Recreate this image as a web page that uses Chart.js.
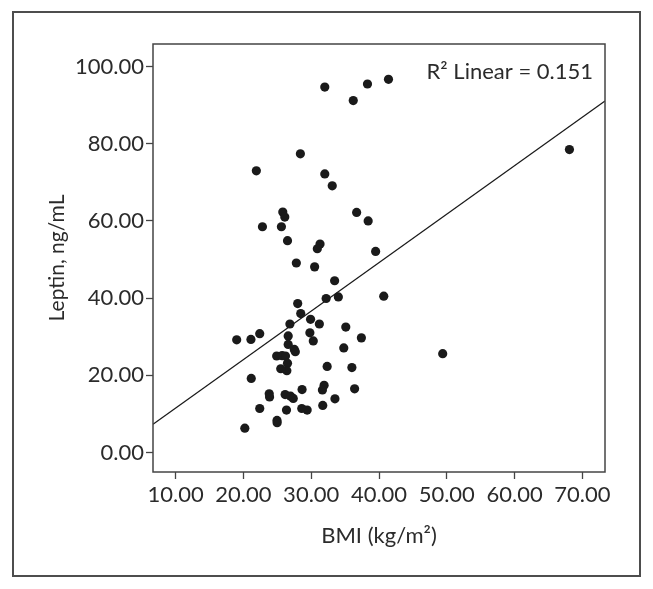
<!DOCTYPE html>
<html>
<head>
<meta charset="utf-8">
<script src="https://cdn.jsdelivr.net/npm/chart.js@4"></script>
<style>
  html, body { margin: 0; padding: 0; background: #fff; }
  #wrap { position: relative; width: 653px; height: 589px; }
  #frame {
    position: absolute; left: 12px; top: 11px; width: 629px; height: 566px;
    box-sizing: border-box; border: 2px solid #4d4d4d; pointer-events: none;
  }
</style>
</head>
<body>
<div id="wrap">
  <canvas id="chart" width="653" height="589"></canvas>
  <div id="frame"></div>
</div>
<script>
// BMI (x) and leptin (y)
const bmi = [32.0, 38.3, 41.4, 36.2, 28.4, 21.9, 68.1, 32.0, 33.1, 25.8,
  26.1, 36.7, 38.4, 22.8, 25.6, 26.5, 31.3, 30.9, 39.5, 27.8,
  30.5, 33.45, 28.0, 32.2, 34.0, 40.7, 28.45, 29.9, 26.85, 31.2,
  35.1, 26.6, 29.8, 30.3, 19.0, 21.1, 22.4, 37.4, 26.6, 27.5,
  27.65, 34.8, 24.9, 25.7, 26.2, 26.5, 26.4, 25.5, 32.35, 36.0,
  49.4, 21.15, 31.9, 31.65, 36.4, 28.65, 23.8, 23.85, 26.15, 26.95,
  27.35, 33.5, 31.7, 22.4, 26.35, 28.6, 29.4, 24.95, 24.97, 20.2];
const leptin = [94.7, 95.5, 96.7, 91.2, 77.4, 73.0, 78.5, 72.2, 69.1, 62.3,
  61.0, 62.2, 60.0, 58.5, 58.5, 54.9, 54.0, 52.8, 52.1, 49.1,
  48.1, 44.5, 38.6, 39.9, 40.3, 40.5, 36.0, 34.5, 33.3, 33.3,
  32.5, 30.2, 31.0, 28.9, 29.2, 29.3, 30.8, 29.7, 28.0, 26.7,
  26.1, 27.1, 25.0, 25.1, 25.0, 23.1, 21.2, 21.7, 22.3, 22.0,
  25.6, 19.2, 17.4, 16.2, 16.5, 16.3, 15.2, 14.4, 15.0, 14.6,
  14.0, 13.9, 12.2, 11.4, 11.0, 11.4, 11.0, 8.3, 7.7, 6.3];

// fit line end points (at the plot edges)
const fitX = [6.65, 73.35];
const fitY = [7.3, 91.1];

const xTicks = [10, 20, 30, 40, 50, 60, 70];
const yTicks = [0, 20, 40, 60, 80, 100];
const r2Label = "R\u00B2 Linear = 0.151";

const points = bmi.map((b, i) => ({ x: b, y: leptin[i] }));
const fitLine = fitX.map((x, i) => ({ x: x, y: fitY[i] }));

const textColor = "#2b2b2b";
const tickFont = { family: "Lato", size: 22 };

// plot box + R2 label
const extras = {
  id: "extras",
  afterDraw(chart) {
    const { ctx, chartArea } = chart;
    ctx.save();
    ctx.strokeStyle = "#444";
    ctx.lineWidth = 1.5;
    ctx.strokeRect(chartArea.left, chartArea.top, chartArea.right - chartArea.left, chartArea.bottom - chartArea.top);
    ctx.font = "22px Lato";
    ctx.fillStyle = textColor;
    ctx.textAlign = "right";
    ctx.textBaseline = "alphabetic";
    ctx.fillText(r2Label, chartArea.right - 12, chartArea.top + 35);
    ctx.restore();
  }
};

new Chart(document.getElementById("chart").getContext("2d"), {
  type: "scatter",
  data: {
    datasets: [
      {
        type: "line",
        data: fitLine,
        borderColor: "#1a1a1a",
        borderWidth: 1.3,
        pointRadius: 0,
        fill: false,
        order: 2
      },
      {
        data: points,
        backgroundColor: "#1a1a1a",
        borderWidth: 0,
        pointRadius: 4.6,
        order: 1
      }
    ]
  },
  options: {
    responsive: false,
    animation: false,
    devicePixelRatio: 1,
    layout: { padding: { top: 44, right: 48, left: 0, bottom: 0 } },
    plugins: { legend: { display: false }, tooltip: { enabled: false } },
    scales: {
      x: {
        type: "linear",
        min: 6.65,
        max: 73.35,
        afterFit(scale) { scale.height = 117; },
        afterBuildTicks(scale) { scale.ticks = xTicks.map(v => ({ value: v })); },
        grid: { drawOnChartArea: false, tickLength: 7, color: "#444", tickWidth: 1.3 },
        border: { display: false },
        ticks: {
          font: tickFont, color: textColor, padding: 3, maxRotation: 0,
          callback: v => v.toFixed(2)
        },
        title: {
          display: true, text: "BMI (kg/m\u00B2)", color: textColor,
          font: { family: "Lato", size: 22 }, padding: { top: 0, bottom: 40 }
        }
      },
      y: {
        type: "linear",
        min: -5.06,
        max: 105.86,
        afterFit(scale) { scale.width = 153; },
        afterBuildTicks(scale) { scale.ticks = yTicks.map(v => ({ value: v })); },
        grid: { drawOnChartArea: false, tickLength: 7, color: "#444", tickWidth: 1.3 },
        border: { display: false },
        ticks: {
          font: tickFont, color: textColor, padding: 2,
          callback: v => v.toFixed(2)
        },
        title: {
          display: true, text: "Leptin, ng/mL", color: textColor,
          font: { family: "Lato", size: 21 }, padding: { top: 45, bottom: 0 }
        }
      }
    }
  },
  plugins: [extras]
});
</script>
</body>
</html>
